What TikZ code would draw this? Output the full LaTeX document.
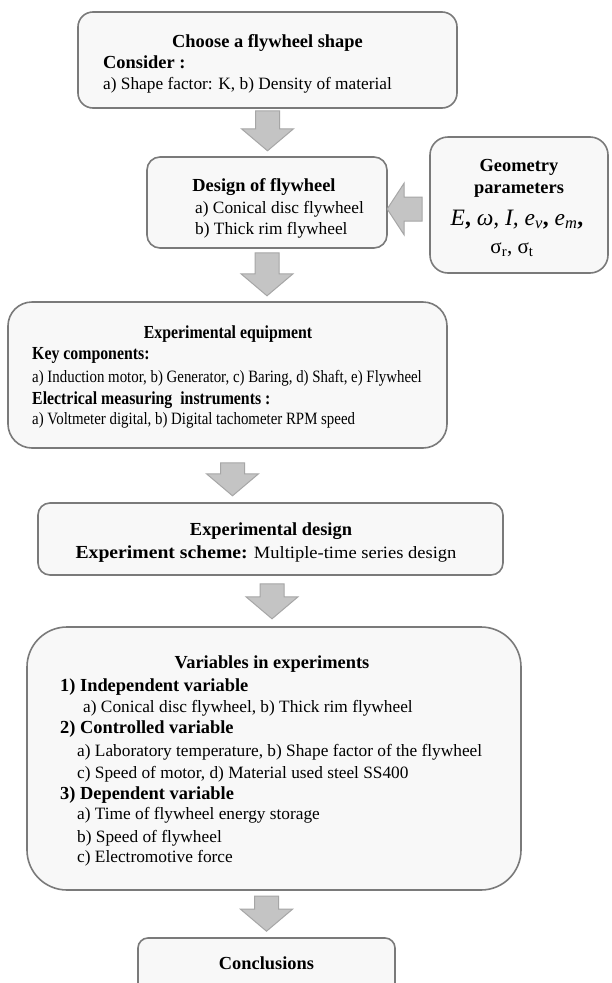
\documentclass[tikz,border=0pt]{standalone}
\usepackage{graphicx}
\usepackage{fontspec}
\setmainfont{Liberation Serif}
\usetikzlibrary{calc}
\definecolor{boxfill}{HTML}{F8F8F8}
\definecolor{boxline}{HTML}{7A7A7A}
\definecolor{arrfill}{HTML}{C4C4C4}
\definecolor{arrline}{HTML}{A6A6A6}
\newcommand{\sqz}[1]{\scalebox{0.86}[1]{#1}}
\tikzset{
  box/.style={draw=boxline, fill=boxfill, line width=1.6pt, inner sep=0pt},
  txt/.style={inner sep=0pt, anchor=base west, font=\fontsize{17.3}{20}\selectfont},
  hd/.style={inner sep=0pt, anchor=base, font=\fontsize{18.4}{21}\selectfont\bfseries},
  hdl/.style={inner sep=0pt, anchor=base west, font=\fontsize{18.4}{21}\selectfont\bfseries},
  arr/.style={draw=arrline, fill=arrfill, line width=1pt, line join=miter},
  pics/darrow/.style={code={\draw[arr] (-12,0) -- (12,0) -- (12,#1-22) -- (26,#1-22) -- (0,#1) -- (-26,#1-22) -- (-12,#1-22) -- cycle;}},
  pics/larrow/.style={code={\draw[arr] (0,-12) -- (0,12) -- (-#1+17,12) -- (-#1+17,26) -- (-#1,0) -- (-#1+17,-26) -- (-#1+17,-12) -- cycle;}}
}
\begin{document}
\begin{tikzpicture}[x=1pt,y=-1pt]
\useasboundingbox (0,0) rectangle (612,983);
\clip (0,0) rectangle (612,983);
\fill[white] (0,0) rectangle (612,983);

% boxes
\node[box, rounded corners=15pt, minimum width=379pt, minimum height=96pt] (b1) at (267.5,60) {};
\node[box, rounded corners=13pt, minimum width=240pt, minimum height=91pt] (b2) at (267,202.5) {};
\node[box, rounded corners=18pt, minimum width=178pt, minimum height=136pt] (bg) at (519,205) {};
\node[box, rounded corners=24pt, minimum width=439pt, minimum height=146pt] (b3) at (227.5,375) {};
\node[box, rounded corners=12pt, minimum width=465pt, minimum height=72pt] (b4) at (270.5,539) {};
\node[box, rounded corners=40pt, minimum width=494pt, minimum height=263pt] (b5) at (274,758.5) {};
\node[box, rounded corners=10pt, minimum width=257pt, minimum height=70pt] (b6) at (266.5,973) {};

% arrows
\path (b1.south) ++(0,2) pic (a1) {darrow=40};
\path (b2.south) ++(0,4) pic (a2) {darrow=43};
\path (b3.south) ++(5,14) pic (a3) {darrow=33};
\path (b4.south) ++(1.5,8) pic (a4) {darrow=35};
\path (b6.north) ++(0,-41) pic (a5) {darrow=35};
\path (bg.west) ++(-7,4) pic (a6) {larrow=35};

% box 1
\node[hd] (t1a) at (267.5,47) {Choose a flywheel shape};
\node[hdl] (t1b) at (103,68) {Consider :};
\node[txt] (t1c) at (103,89) {a) Shape factor: K, b) Density of material};

% box 2
\node[hd] (t2a) at (264,191) {Design of flywheel};
\node[txt] (t2b) at (195,213) {a) Conical disc flywheel};
\node[txt] (t2c) at (195,234) {b) Thick rim flywheel};

% geometry box
\node[hd] (tga) at (519,171) {Geometry};
\node[hd] (tgb) at (519,193) {parameters};
\node[inner sep=0pt, anchor=base, font=\fontsize{23.5}{25}\selectfont] (tgc) at (517,225)
  {\textit{E}\textbf{,} \textit{ω, I,} \textit{e}\textsubscript{\textit{v}}\textbf{,} \textit{e}\textsubscript{\textit{m}}\textbf{,}};
\node[inner sep=0pt, anchor=base, font=\fontsize{21}{23}\selectfont] (tgd) at (512,253)
  {σ\textsubscript{r}, σ\textsubscript{t}};

% box 3
\node[hd] (t3a) at (228,338) {\sqz{Experimental equipment}};
\node[hdl] (t3b) at (32,359) {\sqz{Key components:}};
\node[txt] (t3c) at (32,382) {\sqz{a) Induction motor, b) Generator, c) Baring, d) Shaft, e) Flywheel}};
\node[hdl] (t3d) at (32,404) {\sqz{Electrical measuring\ \ instruments :}};
\node[txt] (t3e) at (32,424) {\sqz{a) Voltmeter digital, b) Digital tachometer RPM speed}};

% box 4
\node[hd] (t4a) at (271,535) {Experimental design};
\node[txt, anchor=base] (t4b) at (266,558) {\scalebox{1.07}[1]{{\fontsize{18.4}{21}\selectfont\bfseries Experiment scheme:} Multiple-time series design}};

% box 5
\node[hd] (t5a) at (272,668) {Variables in experiments};
\node[hdl] (t5b) at (60,691) {1) Independent variable};
\node[txt] (t5c) at (83,712) {a) Conical disc flywheel, b) Thick rim flywheel};
\node[hdl] (t5d) at (60,733) {2) Controlled variable};
\node[txt] (t5e) at (77,756) {a) Laboratory temperature, b) Shape factor of the flywheel};
\node[txt] (t5f) at (77,778) {c) Speed of motor, d) Material used steel SS400};
\node[hdl] (t5g) at (60,799) {3) Dependent variable};
\node[txt] (t5h) at (77,819) {a) Time of flywheel energy storage};
\node[txt] (t5i) at (77,842) {b) Speed of flywheel};
\node[txt] (t5j) at (77,862) {c) Electromotive force};

% box 6
\node[hd] (t6a) at (266.5,969) {Conclusions};
\end{tikzpicture}
\end{document}
